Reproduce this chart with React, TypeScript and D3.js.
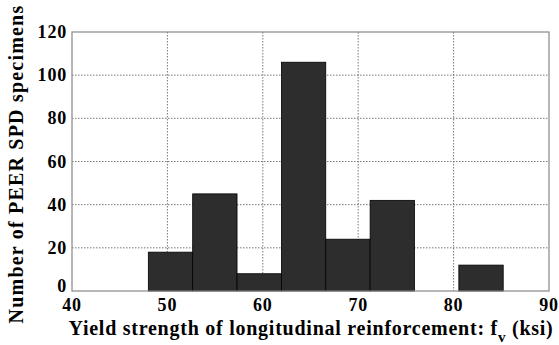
import { useRef, useEffect } from "react";
import * as d3 from "d3";

// histogram bin edges (ksi) and counts
const binEdges = [48, 52.65, 57.3, 61.95, 66.6, 71.25, 75.9, 80.55, 85.2];
const counts = [18, 45, 8, 106, 24, 42, 0, 12];
const xTicks = [40, 50, 60, 70, 80, 90];
const yTicks = [0, 20, 40, 60, 80, 100, 120];

const W = 559;
const H = 345;
const FONT = "'Liberation Serif', 'DejaVu Serif', serif";

const App = () => {
  const svgRef = useRef<SVGSVGElement>(null);

  useEffect(() => {
    const svg = d3.select(svgRef.current);
    svg.selectAll("*").remove();
    const m = { left: 72, top: 32, right: 10, bottom: 54 };
    const w = W - m.left - m.right;
    const h = H - m.top - m.bottom;

    const x = d3.scaleLinear().domain([40, 90]).range([0, w]);
    const y = d3.scaleLinear().domain([0, 120]).range([h, 0]);

    const g = svg
      .append("g")
      .attr("transform", `translate(${m.left},${m.top})`);

    // grid
    g.selectAll("line.gx")
      .data(xTicks.slice(1, -1))
      .join("line")
      .attr("x1", (d) => x(d))
      .attr("x2", (d) => x(d))
      .attr("y1", 0)
      .attr("y2", h)
      .attr("stroke", "#555")
      .attr("stroke-width", 0.8)
      .attr("stroke-dasharray", "1.5,1.5");
    g.selectAll("line.gy")
      .data(yTicks.slice(1, -1))
      .join("line")
      .attr("x1", 0)
      .attr("x2", w)
      .attr("y1", (d) => y(d))
      .attr("y2", (d) => y(d))
      .attr("stroke", "#555")
      .attr("stroke-width", 0.8)
      .attr("stroke-dasharray", "1.5,1.5");

    // bars
    const bins = counts.map((c, i) => ({ x0: binEdges[i], x1: binEdges[i + 1], c }));
    g.selectAll("rect.bar")
      .data(bins.filter((b) => b.c > 0))
      .join("rect")
      .attr("x", (d) => x(d.x0))
      .attr("width", (d) => x(d.x1) - x(d.x0))
      .attr("y", (d) => y(d.c))
      .attr("height", (d) => h - y(d.c))
      .attr("fill", "#2d2d2d")
      .attr("stroke", "#000")
      .attr("stroke-width", 0.8);

    // frame
    g.append("rect")
      .attr("x", 0)
      .attr("y", 0)
      .attr("width", w)
      .attr("height", h)
      .attr("fill", "none")
      .attr("stroke", "#888")
      .attr("stroke-width", 1.2);

    // tick labels
    g.selectAll("text.xt")
      .data(xTicks)
      .join("text")
      .attr("x", (d) => x(d))
      .attr("y", h + 20)
      .attr("text-anchor", "middle")
      .attr("font-family", FONT)
      .attr("font-weight", "bold")
      .attr("font-size", 18)
      .attr("letter-spacing", 0.8)
      .text((d) => d);
    g.selectAll("text.yt")
      .data(yTicks)
      .join("text")
      .attr("x", -5)
      .attr("y", (d) => y(d) + (d === 0 ? 1 : 6))
      .attr("text-anchor", "end")
      .attr("font-family", FONT)
      .attr("font-weight", "bold")
      .attr("font-size", 18)
      .attr("letter-spacing", 0.8)
      .text((d) => d);

    // x label
    const xl = svg
      .append("text")
      .attr("x", 311)
      .attr("y", 335)
      .attr("text-anchor", "middle")
      .attr("font-family", FONT)
      .attr("font-weight", "bold")
      .attr("font-size", 20)
      .attr("letter-spacing", 0.75);
    xl.append("tspan").text("Yield strength of longitudinal reinforcement: f");
    xl.append("tspan").attr("dy", 7).attr("font-size", 15).text("v");
    xl.append("tspan").attr("dy", -7).text(" (ksi)");

    // y label
    svg
      .append("text")
      .attr("transform", `translate(23,164) rotate(-90)`)
      .attr("text-anchor", "middle")
      .attr("font-family", FONT)
      .attr("font-weight", "bold")
      .attr("font-size", 20)
      .attr("letter-spacing", 1.2)
      .text("Number of PEER SPD specimens");
  }, []);

  return (
    <svg
      ref={svgRef}
      width={W}
      height={H}
      style={{ position: "absolute", left: 0, top: 0, background: "#fff" }}
    />
  );
};

export default App;
